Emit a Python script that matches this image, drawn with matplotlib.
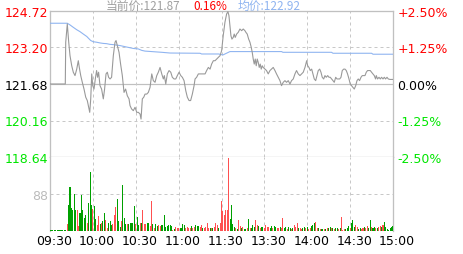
import matplotlib
matplotlib.use("Agg")
import matplotlib.pyplot as plt
import matplotlib.transforms as mtransforms

plt.rcParams['font.family'] = ['DejaVu Sans']

# ---------------- data ----------------
base_price = 121.68
price_ticks = [124.72, 123.20, 121.68, 120.16, 118.64]
pct_labels = ['+2.50%', '+1.25%', '0.00%', '-1.25%', '-2.50%']
time_ticks = [0, 30, 60, 90, 120, 150, 180, 210, 240]
time_labels = ['09:30', '10:00', '10:30', '11:00', '11:30', '13:30', '14:00', '14:30', '15:00']
vol_ticks = [88]
vol_max = 176

price_min = [0, 10.7, 11.0, 12.1, 13.1, 14.0, 15.2, 16.3, 17.5, 18.7, 19.8, 20.5, 21.5, 22.6, 23.8, 25.0,
             26.1, 27.3, 27.8, 28.5, 29.2, 29.9, 30.8, 31.7, 32.6, 33.3, 34.0, 35.0, 36.1, 37.3, 38.2,
             39.2, 40.1, 41.0, 42.0, 43.1, 44.3, 45.5, 46.2, 47.1, 48.3, 49.4, 50.6, 51.8, 52.9, 54.1,
             55.3, 56.0, 57.1, 58.3, 59.5, 60.7, 61.8, 63.0, 63.7, 64.6, 65.6, 66.5, 67.7, 68.8, 70.0,
             71.2, 72.3, 73.5, 74.7, 75.8, 77.0, 78.2, 79.3, 80.0, 81.0, 82.1, 83.3, 84.5, 85.6, 86.8,
             88.0, 89.1, 90.3, 91.5, 92.6, 93.8, 95.0, 96.1, 97.3, 98.4, 99.6, 100.8, 101.5, 102.6,
             103.8, 105.0, 108.5, 109.6, 110.8, 112.0, 113.1, 114.3, 115.5, 116.6, 117.8, 119.0, 120.1,
             121.2, 122.4, 123.6, 124.5, 125.2, 125.9, 126.6, 127.3, 128.2, 128.9, 129.6, 130.6, 131.7,
             132.9, 134.1, 135.2, 136.4, 137.1, 138.0, 139.0, 139.9, 140.8, 141.5, 142.2, 142.9, 143.6,
             144.3, 145.0, 145.7, 146.4, 147.1, 147.8, 148.5, 149.2, 150.4, 151.5, 152.7, 153.9, 155.0,
             156.2, 157.4, 158.5, 159.7, 160.9, 162.0, 163.2, 164.4, 165.5, 166.7, 167.9, 169.0, 170.2,
             171.4, 172.5, 173.7, 174.9, 176.0, 177.2, 178.4, 179.6, 180.3, 181.2, 182.1, 183.1, 184.0,
             184.9, 185.9, 186.8, 187.7, 188.7, 189.6, 190.5, 191.5, 192.4, 193.3, 194.3, 195.2, 196.1,
             197.1, 198.0, 198.9, 199.9, 200.8, 202.7, 203.6, 204.5, 205.5, 206.4, 207.3, 208.2, 209.2,
             210.1, 211.0, 212.0, 212.9, 213.9, 214.8, 215.7, 216.6, 217.6, 218.5, 220.4, 221.3, 222.2,
             224.1, 225.0, 226.0, 226.9, 227.8, 228.3, 229.2, 230.2, 231.1, 232.0, 233.0, 233.9, 234.8,
             235.8, 236.7, 237.9, 240.0]
price_val = [121.68, 121.68, 123.42, 124.18, 123.42, 122.86, 122.44, 122.17, 122.03, 122.30, 122.65, 122.37,
             122.03, 121.75, 121.47, 121.13, 120.99, 120.64, 120.50, 121.06, 122.10, 121.61, 121.47, 121.89,
             122.24, 121.96, 122.17, 121.61, 121.47, 121.06, 121.47, 122.10, 122.17, 121.96, 121.89, 121.96,
             122.86, 123.42, 123.49, 123.28, 123.00, 122.51, 122.03, 121.33, 121.47, 121.19, 121.06, 120.78,
             120.64, 120.57, 120.71, 120.50, 120.50, 120.43, 120.22, 121.06, 121.13, 121.26, 121.26, 121.33,
             121.54, 122.10, 121.82, 121.75, 122.03, 122.17, 122.37, 122.10, 121.89, 122.03, 121.68, 122.10,
             122.24, 122.17, 121.96, 121.89, 121.89, 122.03, 122.17, 122.03, 121.96, 121.82, 121.40, 121.13,
             120.99, 120.99, 121.26, 121.61, 121.89, 121.96, 122.10, 122.10, 122.10, 122.24, 122.37, 122.30,
             122.51, 122.65, 122.65, 122.72, 122.79, 122.86, 123.07, 123.69, 124.25, 124.60, 124.69, 124.53,
             124.11, 123.69, 123.55, 123.62, 123.76, 123.62, 123.76, 123.83, 123.97, 123.90, 123.97, 123.90,
             123.83, 123.76, 123.55, 123.42, 123.21, 123.00, 122.72, 122.51, 122.72, 122.44, 122.72, 122.58,
             122.37, 122.51, 122.30, 122.44, 122.37, 122.30, 122.24, 122.10, 122.24, 122.30, 122.37, 122.24,
             122.10, 121.96, 121.82, 121.61, 121.75, 121.82, 121.75, 121.82, 121.68, 121.82, 121.89, 122.10,
             122.24, 122.10, 122.03, 122.10, 122.17, 122.37, 122.65, 122.44, 122.37, 122.24, 122.30, 122.10,
             121.89, 121.82, 122.03, 122.24, 122.30, 122.17, 121.96, 121.89, 122.03, 121.96, 122.03, 121.96,
             121.96, 121.89, 121.82, 121.75, 121.96, 121.89, 121.89, 121.96, 122.24, 122.30, 122.30, 122.24,
             122.10, 121.89, 121.68, 121.61, 121.54, 121.47, 121.61, 121.82, 121.89, 121.82, 121.96, 122.03,
             122.03, 122.17, 122.24, 122.24, 122.17, 122.10, 122.03, 121.89, 122.03, 121.89, 121.96, 121.89,
             121.96, 121.89, 121.96, 121.89, 121.96, 121.89, 121.87, 121.87]

avg_min = [0, 12.1, 14.0, 16.3, 18.7, 21.0, 23.3, 25.7, 27.5, 28.5, 30.3, 32.6, 35.0, 37.3, 39.6, 42.0,
           44.3, 46.6, 49.0, 51.3, 53.6, 56.0, 58.3, 61.8, 64.2, 66.5, 71.2, 78.2, 84.0, 105.0, 106.1,
           118.0, 121.0, 125.9, 162.0, 163.0, 197.0, 198.0, 225.0, 226.0, 240.0]
avg_val = [124.21, 124.21, 124.14, 124.04, 123.94, 123.86, 123.76, 123.66, 123.55, 123.49, 123.44, 123.42,
           123.39, 123.37, 123.36, 123.33, 123.32, 123.30, 123.28, 123.25, 123.22, 123.19, 123.16, 123.14,
           123.08, 123.05, 123.03, 123.00, 122.97, 122.96, 122.93, 122.93, 122.89, 123.03, 123.03, 123.00,
           123.00, 122.96, 122.96, 122.92, 122.92]

volume = [
    1.5, 1.5, 1.5, 1.5, 1.5, 1.5, 1.5, 1.5, 1.5, 1.5,
    1.5, 1.5, 16, 63, 104, 55, 51, 88, 49, 49,
    12, 43, 86, 51, 30, 39, 19, 67, 141, 63,
    53, 59, 28, 14, 35, 17, 20, 24, 44, 25,
    8, 18, 24, 14, 16, 38, 57, 75, 24, 9,
    24, 109, 30, 16, 16, 16, 18, 18, 20, 59,
    16, 33, 14, 20, 18, 51, 16, 17, 18, 18,
    12, 71, 16, 6, 16, 12, 14, 13, 14, 14,
    38, 9, 13, 14, 14, 13, 3, 4, 10, 8,
    6, 6, 6, 16, 14, 8, 9, 8, 6, 12,
    6, 9, 14, 12, 13, 9, 14, 6, 8, 9,
    18, 8, 8, 6, 8, 9, 20, 15, 8, 20,
    72, 47, 39, 51, 51, 174, 29, 63, 17, 10,
    6, 4, 25, 12, 6, 9, 5, 5, 8, 29,
    6, 8, 14, 10, 25, 14, 12, 6, 10, 9,
    6, 14, 9, 9, 6, 12, 8, 12, 10, 6,
    6, 9, 8, 30, 6, 10, 4, 9, 6, 4,
    8, 14, 9, 20, 6, 8, 4, 6, 9, 6,
    9, 4, 8, 12, 14, 18, 21, 6, 8, 4,
    5, 4, 4, 5, 8, 6, 9, 6, 6, 4,
    6, 6, 4, 8, 34, 2, 4, 4, 6, 12,
    6, 20, 25, 10, 14, 9, 4, 8, 4, 6,
    9, 6, 12, 6, 26, 9, 6, 9, 6, 6,
    9, 12, 9, 14, 21, 9, 4, 2, 6, 10, 12]
vol_dir = ("gggggggggg" "ggrggggggr" "rgggggrggg" "rggrrgrggr" "rgggrrrggg" "rgggrggggg"
           "rggrgrrrgg" "rrgrggrrgg" "ggggggrgrr" "rggggrrrrg" "rrgggrrgrr" "rrgrgrrrgr"
           "rrrrrrgggg" "rgrrgrggrg" "rgggrrgrgg" "rrrrggrggr" "rgrrggrggr" "grrrgrrggr"
           "grrgggrrgr" "ggrgrggrgr" "ggrgrrrggg" "rgggrrggrr" "grrggrggrg" "rrgrggggggg")

title_price = '当前价:121.87'
title_pct = '0.16%'
title_avg = '均价:122.92'

# ---------------- style ----------------
RED = '#ff0000'
GREEN = '#00e600'
BAR_RED = '#ff5050'
BAR_GREEN = '#00a000'
GRID = '#c8c8c8'
SOLID = '#c0c0c0'
PRICE_C = '#999999'
AVG_C = '#8fb4f0'

W, H = 463, 255
fig = plt.figure(figsize=(W / 100, H / 100), dpi=100)
fig.patch.set_facecolor('white')

L, R = 50 / W, 393 / W
p_top, p_bot, v_bot = 1 - 12 / H, 1 - 158 / H, 1 - 232 / H
ax_p = fig.add_axes([L, p_bot, R - L, p_top - p_bot])
ax_v = fig.add_axes([L, v_bot, R - L, p_bot - v_bot], sharex=ax_p)

px = 0.72  # one pixel in points
dash = (0, (3, 3))

# price panel
ax_p.set_xlim(0, 240)
ax_p.set_ylim(price_ticks[-1], price_ticks[0])
for i, t in enumerate(price_ticks):
    if i in (1, 3):
        ax_p.axhline(t, color=GRID, lw=px, ls=dash, zorder=1)
    elif i == 2:
        ax_p.axhline(t, color=SOLID, lw=px * 1.2, zorder=1)
for t in time_ticks[1:-1]:
    ax_p.axvline(t, color=GRID, lw=px, ls=dash, zorder=1)
ax_p.plot(avg_min, avg_val, color=AVG_C, lw=px * 1.1, zorder=3)
ax_p.plot(price_min, price_val, color=PRICE_C, lw=px * 1.1, zorder=4)
ax_p.set_yticks(price_ticks)
ax_p.set_yticklabels([f'{t:.2f}' for t in price_ticks], fontsize=9)
lab_colors = [RED, RED, 'black', GREEN, GREEN]
for lab, c in zip(ax_p.get_yticklabels(), lab_colors):
    lab.set_color(c)
ax_p.tick_params(axis='y', length=0, pad=1)
ax_p.tick_params(axis='x', length=0, labelbottom=False)
for s in ax_p.spines.values():
    s.set_color(SOLID)
    s.set_linewidth(px * 1.3)

ax_r = ax_p.twinx()
ax_r.set_ylim(ax_p.get_ylim())
ax_r.set_yticks(price_ticks)
ax_r.set_yticklabels(pct_labels, fontsize=9)
for lab, c in zip(ax_r.get_yticklabels(), lab_colors):
    lab.set_color(c)
ax_r.tick_params(axis='y', length=0, pad=3)
for s in ax_r.spines.values():
    s.set_visible(False)

# volume panel
ax_v.set_ylim(0, vol_max)
colors = [BAR_RED if d == 'r' else BAR_GREEN for d in vol_dir]
ax_v.bar(range(len(volume)), volume, width=0.72, color=colors, linewidth=0, zorder=3)
for t in vol_ticks:
    ax_v.axhline(t, color=GRID, lw=px, ls=dash, zorder=1)
for t in time_ticks[1:-1]:
    ax_v.axvline(t, color=GRID, lw=px, ls=dash, zorder=1)
ax_v.set_yticks(vol_ticks)
ax_v.set_yticklabels([str(t) for t in vol_ticks], fontsize=9, color='#bbbbbb')
ax_v.tick_params(axis='y', length=0, pad=1)
ax_v.set_xticks(time_ticks)
ax_v.set_xticklabels(time_labels, fontsize=9)
ax_v.tick_params(axis='x', length=0, pad=2)
off = mtransforms.ScaledTranslation(4 / 100, 0, fig.dpi_scale_trans)
for lab in ax_v.get_xticklabels():
    lab.set_transform(lab.get_transform() + off)
for name, s in ax_v.spines.items():
    s.set_color(SOLID)
    s.set_linewidth(px * 1.3)
    if name in ('top', 'bottom'):
        s.set_visible(False)

# title
cjk = ['Noto Sans CJK SC', 'DejaVu Sans']
ty = 1 - 10 / H
fig.text(106 / W, ty, title_price, color='#a0a0a0', fontsize=8.5, family=cjk, va='baseline')
fig.text(193 / W, ty, title_pct, color=RED, fontsize=8.5, family=cjk, va='baseline')
fig.text(238 / W, ty, title_avg, color=AVG_C, fontsize=8.5, family=cjk, va='baseline')

fig.savefig('out.png', dpi=100)
